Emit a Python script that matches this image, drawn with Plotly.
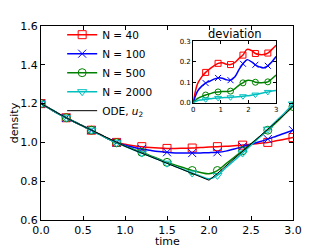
import plotly.graph_objects as go

# ---- main chart data (density vs time) ----
time = [0.0, 0.1, 0.2, 0.3, 0.4, 0.5, 0.6, 0.7, 0.8, 0.9, 1.0,
        1.1, 1.2, 1.3, 1.4, 1.5, 1.6, 1.7, 1.8, 1.9, 2.0,
        2.1, 2.2, 2.3, 2.4, 2.5, 2.6, 2.7, 2.8, 2.9, 3.0]

ode_u2 = [1.200, 1.175, 1.150, 1.127, 1.105, 1.084, 1.063, 1.041, 1.019, 0.998, 0.980,
          0.962, 0.945, 0.927, 0.910, 0.892, 0.875, 0.857, 0.840, 0.822, 0.805,
          0.840, 0.878, 0.916, 0.954, 0.992, 1.030, 1.068, 1.106, 1.144, 1.190]

n40 = [1.200, 1.175, 1.150, 1.127, 1.105, 1.084, 1.063, 1.041, 1.019, 1.000, 0.990,
       0.983, 0.978, 0.974, 0.971, 0.969, 0.969, 0.970, 0.971, 0.974, 0.976,
       0.978, 0.980, 0.983, 0.986, 0.990, 0.995, 1.000, 1.008, 1.016, 1.025]

n100 = [1.200, 1.175, 1.150, 1.127, 1.105, 1.084, 1.063, 1.041, 1.019, 0.999, 0.985,
        0.975, 0.966, 0.959, 0.953, 0.949, 0.946, 0.945, 0.945, 0.946, 0.947,
        0.949, 0.955, 0.966, 0.978, 0.990, 1.003, 1.017, 1.032, 1.047, 1.063]

n500 = [1.200, 1.175, 1.150, 1.127, 1.105, 1.084, 1.063, 1.041, 1.019, 0.998, 0.981,
        0.965, 0.949, 0.932, 0.915, 0.897, 0.883, 0.869, 0.855, 0.845, 0.838,
        0.855, 0.889, 0.923, 0.957, 0.992, 1.027, 1.063, 1.103, 1.145, 1.185]

n2000 = [1.200, 1.175, 1.150, 1.127, 1.105, 1.084, 1.063, 1.041, 1.019, 0.998, 0.980,
         0.962, 0.945, 0.928, 0.911, 0.893, 0.876, 0.859, 0.842, 0.826, 0.812,
         0.830, 0.869, 0.907, 0.945, 0.986, 1.027, 1.068, 1.110, 1.152, 1.198]

# ---- inset data (deviation vs time) ----
t_dev = [0.0, 0.15, 0.3, 0.45, 0.6, 0.75, 0.9, 1.05, 1.2, 1.35, 1.5,
         1.65, 1.8, 1.95, 2.1, 2.25, 2.4, 2.55, 2.7, 2.85, 3.0]
dev40 = [0.0, 0.090, 0.125, 0.148, 0.165, 0.180, 0.192, 0.195, 0.188, 0.186, 0.195,
         0.215, 0.232, 0.260, 0.255, 0.240, 0.235, 0.235, 0.242, 0.260, 0.280]
dev100 = [0.0, 0.055, 0.080, 0.096, 0.105, 0.115, 0.121, 0.120, 0.112, 0.110, 0.125,
          0.160, 0.190, 0.210, 0.200, 0.185, 0.175, 0.170, 0.180, 0.200, 0.225]
dev500 = [0.0, 0.020, 0.030, 0.038, 0.044, 0.050, 0.053, 0.055, 0.055, 0.057, 0.068,
          0.085, 0.097, 0.109, 0.108, 0.100, 0.098, 0.099, 0.102, 0.117, 0.135]
dev2000 = [0.0, 0.010, 0.014, 0.017, 0.020, 0.022, 0.024, 0.025, 0.026, 0.027, 0.028,
           0.030, 0.032, 0.034, 0.037, 0.040, 0.044, 0.049, 0.053, 0.057, 0.060]

labels = ["N = 40", "N = 100", "N = 500", "N = 2000"]
colors = ["#ff0000", "#0000ff", "#008000", "#00bfbf"]
symbols = ["square-open", "x-thin-open", "circle-open", "triangle-down-open"]
main_series = [n40, n100, n500, n2000]
dev_series = [dev40, dev100, dev500, dev2000]

fig = go.Figure()

for lab, col, sym, ys in zip(labels, colors, symbols, main_series):
    fig.add_trace(go.Scatter(x=time, y=ys, mode="lines", line=dict(color=col, width=1.5, shape="spline"),
                             showlegend=False, hoverinfo="skip"))
    fig.add_trace(go.Scatter(x=time[::3], y=ys[::3], mode="markers",
                             marker=dict(symbol=sym, size=8, color=col, line=dict(color=col, width=1)),
                             showlegend=False))
    fig.add_trace(go.Scatter(x=[None], y=[None], mode="lines+markers", name=lab,
                             line=dict(color=col, width=1.5),
                             marker=dict(symbol=sym, size=8, color=col, line=dict(color=col, width=1))))

fig.add_trace(go.Scatter(x=time, y=ode_u2, mode="lines", name="ODE, <i>u</i><sub>2</sub>",
                         line=dict(color="#000000", width=1)))

for col, sym, ys in zip(colors, symbols, dev_series):
    fig.add_trace(go.Scatter(x=t_dev, y=ys, mode="lines", xaxis="x2", yaxis="y2",
                             line=dict(color=col, width=1.5, shape="spline"), showlegend=False))
    fig.add_trace(go.Scatter(x=t_dev[3:19:3], y=ys[3:19:3], mode="markers", xaxis="x2", yaxis="y2",
                             marker=dict(symbol=sym, size=6, color=col, line=dict(color=col, width=1)),
                             showlegend=False))

font = "DejaVu Sans"
fig.update_layout(
    width=319, height=237,
    margin=dict(l=33, r=34, t=16, b=25),
    paper_bgcolor="white", plot_bgcolor="white",
    font=dict(family=font, size=11, color="black"),
    showlegend=True,
    legend=dict(x=0.084, y=1.03, xanchor="left", yanchor="top", bgcolor="rgba(0,0,0,0)",
                font=dict(size=10.5), tracegroupgap=0, itemwidth=30),
    xaxis=dict(range=[0, 3], dtick=0.5, tickformat=".1f", showline=True, mirror="ticks",
               linecolor="black", linewidth=1, ticks="inside", ticklen=4, tickcolor="black",
               showgrid=False, zeroline=False, automargin=False),
    yaxis=dict(range=[0.6, 1.6], dtick=0.2, tickformat=".1f", showline=True, mirror="ticks",
               linecolor="black", linewidth=1, ticks="inside", ticklen=4, tickcolor="black",
               showgrid=False, zeroline=False, automargin=False,
               title=dict(text="density", standoff=2, font=dict(size=11))),
    xaxis2=dict(domain=[0.604, 0.933], anchor="y2", range=[0, 3], dtick=1, showline=True, mirror="ticks",
                linecolor="black", linewidth=1, ticks="inside", ticklen=3, tickcolor="black",
                showgrid=False, zeroline=False, tickfont=dict(size=7)),
    yaxis2=dict(domain=[0.604, 0.922], anchor="x2", range=[0, 0.3], dtick=0.1, tickformat=".1f",
                showline=True, mirror="ticks", linecolor="black", linewidth=1, ticks="inside", ticklen=3,
                tickcolor="black", showgrid=False, zeroline=False, tickfont=dict(size=7)),
    annotations=[
        dict(text="deviation", x=0.7685, y=0.922, xref="paper", yref="paper",
             xanchor="center", yanchor="bottom", showarrow=False, font=dict(size=11.5), yshift=-2),
        dict(text="time", x=0.5, y=0, xref="paper", yref="paper", xanchor="center", yanchor="top",
             showarrow=False, font=dict(size=11), yshift=-13),
    ],
)

fig.write_html("out.html")
